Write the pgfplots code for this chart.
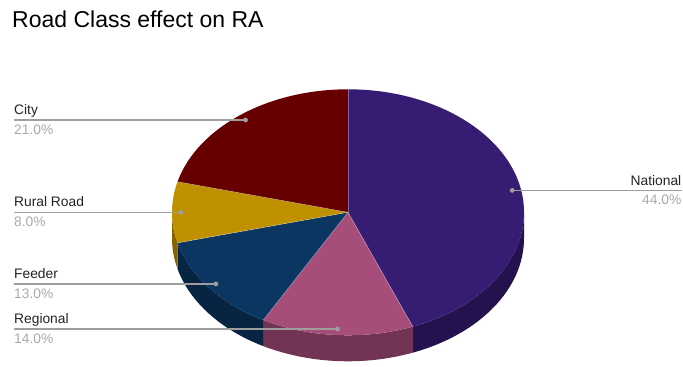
\documentclass[border=0pt]{standalone}
\usepackage{fontspec}
\setmainfont{Liberation Sans}
\usepackage{pgfplots}
\usepackage{pgfplotstable}
\pgfplotsset{compat=1.18}

\definecolor{top0}{RGB}{55,28,115}
\definecolor{top1}{RGB}{166,78,121}
\definecolor{top2}{RGB}{11,54,97}
\definecolor{top3}{RGB}{191,144,0}
\definecolor{top4}{RGB}{102,0,0}
\definecolor{side0}{RGB}{36,18,78}
\definecolor{side1}{RGB}{114,52,84}
\definecolor{side2}{RGB}{7,36,66}
\definecolor{side3}{RGB}{132,99,0}
\definecolor{side4}{RGB}{70,0,0}
\definecolor{lblgray}{RGB}{158,158,158}
\definecolor{pctgray}{RGB}{168,168,168}
\definecolor{txt}{RGB}{34,34,34}

\pgfplotstableread[col sep=comma]{
label,value
National,44
Regional,14
Feeder,13
Rural Road,8
City,21
}\piedata

\def\cx{348}\def\cy{149.7}\def\rx{176}\def\ry{123}\def\dep{26}

\begin{document}
\begin{tikzpicture}
\begin{axis}[scale only axis, width=683pt, height=362pt,
  xmin=0, xmax=683, ymin=0, ymax=362, enlargelimits=false,
  hide axis, clip=false]
\pgfplotsextra{%
  \path (axis cs:0,0) rectangle (axis cs:683,362);
  % ---- side walls
  \xdef\cum{0}%
  \foreach \i in {0,...,4}{%
    \pgfplotstablegetelem{\i}{value}\of\piedata
    \let\val\pgfplotsretval
    \pgfmathsetmacro\ps{90-\cum*3.6}%
    \pgfmathsetmacro\pe{90-(\cum+\val)*3.6}%
    \pgfmathsetmacro\newcum{\cum+\val}%
    \xdef\cum{\newcum}%
    \pgfmathsetmacro\angA{min(\ps,0)}%
    \pgfmathsetmacro\angB{max(\pe,-180)}%
    \ifdim\angA pt>\angB pt
      \pgfmathsetmacro\ax{\cx+\rx*cos(\angA)}%
      \pgfmathsetmacro\ay{\cy+\ry*sin(\angA)}%
      \fill[side\i] (axis cs:\ax,\ay) arc[start angle=\angA, end angle=\angB, x radius=\rx pt, y radius=\ry pt]
        -- ++(0pt,-\dep pt) arc[start angle=\angB, end angle=\angA, x radius=\rx pt, y radius=\ry pt] -- cycle;
    \fi
  }%
  % ---- top faces
  \xdef\cum{0}%
  \foreach \i in {0,...,4}{%
    \pgfplotstablegetelem{\i}{value}\of\piedata
    \let\val\pgfplotsretval
    \pgfmathsetmacro\ps{90-\cum*3.6}%
    \pgfmathsetmacro\pe{90-(\cum+\val)*3.6}%
    \pgfmathsetmacro\newcum{\cum+\val}%
    \xdef\cum{\newcum}%
    \pgfmathsetmacro\ax{\cx+\rx*cos(\ps)}%
    \pgfmathsetmacro\ay{\cy+\ry*sin(\ps)}%
    \fill[top\i] (axis cs:\cx,\cy) -- (axis cs:\ax,\ay) arc[start angle=\ps, end angle=\pe, x radius=\rx pt, y radius=\ry pt] -- cycle;
  }%
  \xdef\cum{0}%
  \foreach \i in {0,...,4}{%
    \pgfplotstablegetelem{\i}{value}\of\piedata
    \let\val\pgfplotsretval
    \pgfmathsetmacro\ps{90-\cum*3.6}%
    \pgfmathsetmacro\newcum{\cum+\val}%
    \xdef\cum{\newcum}%
    \pgfmathsetmacro\ax{\cx+\rx*cos(\ps)}%
    \pgfmathsetmacro\ay{\cy+\ry*sin(\ps)}%
    \draw[white, opacity=0.35, line width=0.6pt] (axis cs:\cx,\cy) -- (axis cs:\ax,\ay);
  }%
  % ---- labels
  \xdef\cum{0}%
  \foreach \i in {0,...,4}{%
    \pgfplotstablegetelem{\i}{label}\of\piedata
    \let\lab\pgfplotsretval
    \pgfplotstablegetelem{\i}{value}\of\piedata
    \let\val\pgfplotsretval
    \pgfmathsetmacro\pm{90-(\cum+\val/2)*3.6}%
    \pgfmathsetmacro\newcum{\cum+\val}%
    \xdef\cum{\newcum}%
    \pgfmathsetmacro\dx{\cx+0.95*\rx*cos(\pm)}%
    \pgfmathsetmacro\dy{\cy+0.95*\ry*sin(\pm)}%
    \pgfmathsetmacro\ny{\dy+5.3}%
    \pgfmathsetmacro\py{\dy-14.2}%
    \ifdim\dx pt<\cx pt
      \draw[lblgray, line width=1.3pt] (axis cs:14,\dy) -- (axis cs:\dx,\dy);
      \node[anchor=base west, inner sep=0pt, text=txt, font=\fontsize{13.8}{16}\selectfont] at (axis cs:14,\ny) {\lab};
      \node[anchor=base west, inner sep=0pt, text=pctgray, font=\fontsize{13.8}{16}\selectfont] at (axis cs:14,\py) {\val.0\%};
    \else
      \draw[lblgray, line width=1.3pt] (axis cs:\dx,\dy) -- (axis cs:681.5,\dy);
      \node[anchor=base east, inner sep=0pt, text=txt, font=\fontsize{13.8}{16}\selectfont] at (axis cs:681.5,\ny) {\lab};
      \node[anchor=base east, inner sep=0pt, text=pctgray, font=\fontsize{13.8}{16}\selectfont] at (axis cs:681.5,\py) {\val.0\%};
    \fi
    \fill[lblgray] (axis cs:\dx,\dy) circle[radius=2.4pt];
  }%
  \node[anchor=base west, inner sep=0pt, text=black, font=\fontsize{23}{26}\selectfont] at (axis cs:12,334.3) {Road Class effect on RA};
}
\end{axis}
\end{tikzpicture}
\end{document}
